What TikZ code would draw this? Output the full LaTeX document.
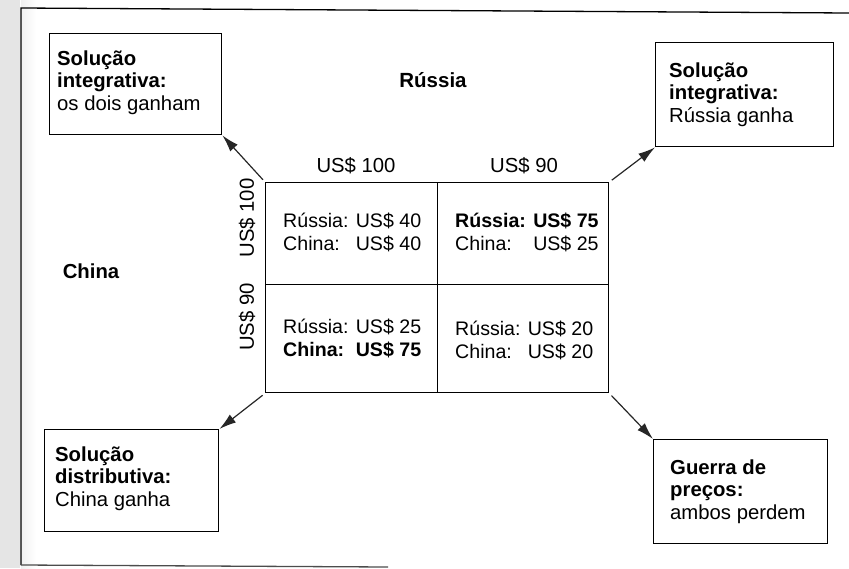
\documentclass[tikz,border=0pt]{standalone}
\usepackage{fontspec}
\setmainfont{Liberation Sans}
\usetikzlibrary{arrows.meta}
\tikzset{
  box/.style={draw, line width=1.4pt, inner sep=0pt, anchor=north west},
  cell/.style={draw, line width=1.4pt, inner sep=0pt, anchor=north west},
  lbl/.style={inner sep=0pt, font=\fontsize{20.3}{22.5}\selectfont},
  celltxt/.style={inner sep=0pt, anchor=base west, font=\fontsize{19.6}{23}\selectfont},
  conn/.style={line width=1.2pt, -{Latex[length=17pt,width=10pt]}, black!85},
}
\begin{document}
\begin{tikzpicture}[x=1pt,y=-1pt]
\useasboundingbox (0,0) rectangle (849,568);
% scanned margin texture
\fill[black!10] (0,0) rectangle (20,568);
\shade[left color=black!6, right color=white] (21,0) rectangle (36,568);
% outer frame
\coordinate (fbl) at (21,565);
\coordinate (ftl) at (21,8);
\coordinate (ftr) at (849,13);
\coordinate (fbr) at (388,567);
\draw[line width=1.3pt] (fbl) -- (ftl) -- (ftr);
\draw[line width=1.3pt, black!70] (fbl) -- (fbr);

% payoff matrix cells
\node[cell, minimum width=172, minimum height=102] (c11) at (265,182) {};
\node[cell, minimum width=171, minimum height=102] (c12) at (437,182) {};
\node[cell, minimum width=172, minimum height=108] (c21) at (265,284) {};
\node[cell, minimum width=171, minimum height=108] (c22) at (437,284) {};

% cell texts
\node[celltxt] (t11) at (283,227) {\begin{tabular}[t]{@{}l@{ }r@{}}Rússia: & US\$ 40\\ China: & US\$ 40\end{tabular}};
\node[celltxt] (t12) at (455,227) {\begin{tabular}[t]{@{}l@{ }r@{}}\textbf{Rússia:} & \textbf{US\$ 75}\\ China: & US\$ 25\end{tabular}};
\node[celltxt] (t21) at (283,333) {\begin{tabular}[t]{@{}l@{ }r@{}}Rússia: & US\$ 25\\ \textbf{China:} & \textbf{US\$ 75}\end{tabular}};
\node[celltxt] (t22) at (455,335) {\begin{tabular}[t]{@{}l@{ }r@{}}Rússia: & US\$ 20\\ China: & US\$ 20\end{tabular}};

% axis labels
\node[lbl, font=\fontsize{20.5}{22.5}\selectfont\bfseries] (russia) at (433,80) {Rússia};
\node[lbl, font=\fontsize{20.3}{22.5}\selectfont\bfseries] (china) at (91,271) {China};
\node[lbl, anchor=base] (r100) at (356,172) {US\$ 100};
\node[lbl, anchor=base] (r90) at (524,172) {US\$ 90};
\node[lbl, rotate=90] (c100) at (247,218) {US\$ 100};
\node[lbl, rotate=90] (c90) at (247,317) {US\$ 90};

% outcome boxes
\node[box, minimum width=172, minimum height=101] (tl) at (49,33) {};
\node[box, minimum width=178, minimum height=104] (tr) at (655,42) {};
\node[box, minimum width=174, minimum height=102] (bl) at (44,429) {};
\node[box, minimum width=174, minimum height=104] (br) at (653,439) {};

\node[lbl, anchor=base west] (tltxt) at (57,65) {\begin{tabular}[t]{@{}l@{}}\textbf{Solução}\\ \textbf{integrativa:}\\ os dois ganham\end{tabular}};
\node[lbl, anchor=base west] (trtxt) at (669,77) {\begin{tabular}[t]{@{}l@{}}\textbf{Solução}\\ \textbf{integrativa:}\\ Rússia ganha\end{tabular}};
\node[lbl, anchor=base west] (bltxt) at (55,461) {\begin{tabular}[t]{@{}l@{}}\textbf{Solução}\\ \textbf{distributiva:}\\ China ganha\end{tabular}};
\node[lbl, anchor=base west] (brtxt) at (670,474) {\begin{tabular}[t]{@{}l@{}}\textbf{Guerra de}\\ \textbf{preços:}\\ ambos perdem\end{tabular}};

% connectors
\draw[conn, shorten <=3pt] (c11.north west) -- (tl.south east);
\draw[conn, shorten <=3pt] (c12.north east) -- (tr.south west);
\draw[conn, shorten <=3pt] (c21.south west) -- (bl.north east);
\draw[conn, shorten <=3pt] (c22.south east) -- (br.north west);
\end{tikzpicture}
\end{document}
